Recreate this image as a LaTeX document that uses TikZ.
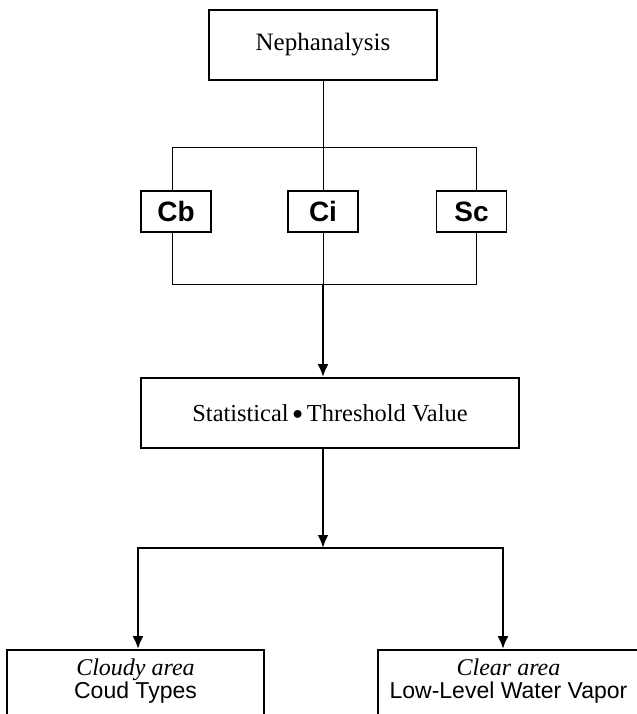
\documentclass[tikz,border=0pt]{standalone}
\usepackage{fontspec}
\setmainfont{Liberation Serif}
\setsansfont{Liberation Sans}
\usetikzlibrary{arrows.meta}

\tikzset{
	mainbox/.style={draw, line width=0.9pt, fill=white, inner sep=0pt},
	cloudbox/.style={draw, line width=0.9pt, fill=white, inner sep=0pt,
		minimum width=35pt, minimum height=20.5pt,
		font=\sffamily\bfseries\fontsize{14}{16}\selectfont},
	thinline/.style={line width=0.5pt},
	flow/.style={line width=1.2pt, -{Latex[length=6.5pt,width=5.5pt]}},
}

\begin{document}
		\begin{tikzpicture}[x=0.5pt, y=-0.5pt]
			\useasboundingbox (0,0) rectangle (637,714);

			\node[mainbox, minimum width=114pt, minimum height=35pt,
				font=\fontsize{12.5}{14}\selectfont] (neph) at (323,45){Nephanalysis};

			\node[cloudbox] (cb) at(176, 211.5){Cb};
			\node[cloudbox] (ci) at(323, 211.5){Ci};
			\node[cloudbox] (sc) at(471.5, 211.5){Sc};

			\node[mainbox, minimum width=189pt, minimum height=35pt,
				font=\fontsize{12.2}{14}\selectfont] (stat) at(330, 413){Statistical\,\raisebox{0.2ex}{\scalebox{0.85}{$\bullet$}}\,Threshold Value};

			\node[mainbox, minimum width=128.5pt, minimum height=45pt] (cloudy) at(135.5, 695){};
			\node[mainbox, minimum width=130.5pt, minimum height=45pt] (clear) at(508.5, 695){};
				\node[anchor=north, align=center, inner sep=0pt,
					font=\fontsize{12}{11.5}\selectfont] (cloudytxt) at([yshift=-4.5pt]cloudy.north)
					{\textit{Cloudy area}\\{\sffamily\fontsize{11.5}{11.5}\selectfont Coud Types}};
				\node[anchor=north, align=center, inner sep=0pt,
					font=\fontsize{12}{11.5}\selectfont] (cleartxt) at([yshift=-4.5pt]clear.north)
					{\textit{Clear area}\\{\sffamily\fontsize{11.5}{11.5}\selectfont Low-Level Water Vapor}};

			% frame round the cloud types
			\coordinate (ftl) at(172,147);
			\coordinate (ftr) at(476,147);
			\coordinate (fbl) at(172,284);
			\coordinate (fbr) at(476,284);
			\coordinate (hub) at(323,284);
			\draw[thinline] (cb.north -| ftl) -- (ftl) -- (ftr) -- (sc.north -| ftr);
			\draw[thinline] (cb.south -| fbl) -- (fbl) -- (fbr) -- (sc.south -| fbr);
			\draw[thinline] (neph.south) -- (ci.north);
			\draw[thinline] (ci.south) -- (hub);
			\draw[flow] (hub) -- (hub |- stat.north);

			% split to the two areas
			\coordinate (split) at(323,548);
			\coordinate (sl) at(138,548);
			\coordinate (sr) at(503,548);
			\draw[flow] (stat.south -| split) -- (split);
			\draw[line width=1.2pt, {Latex[length=6.5pt,width=5.5pt]}-{Latex[length=6.5pt,width=5.5pt]}]
				(sl |- cloudy.north) -- (sl) -- (sr) -- (sr |- clear.north);
		\end{tikzpicture}
\end{document}
